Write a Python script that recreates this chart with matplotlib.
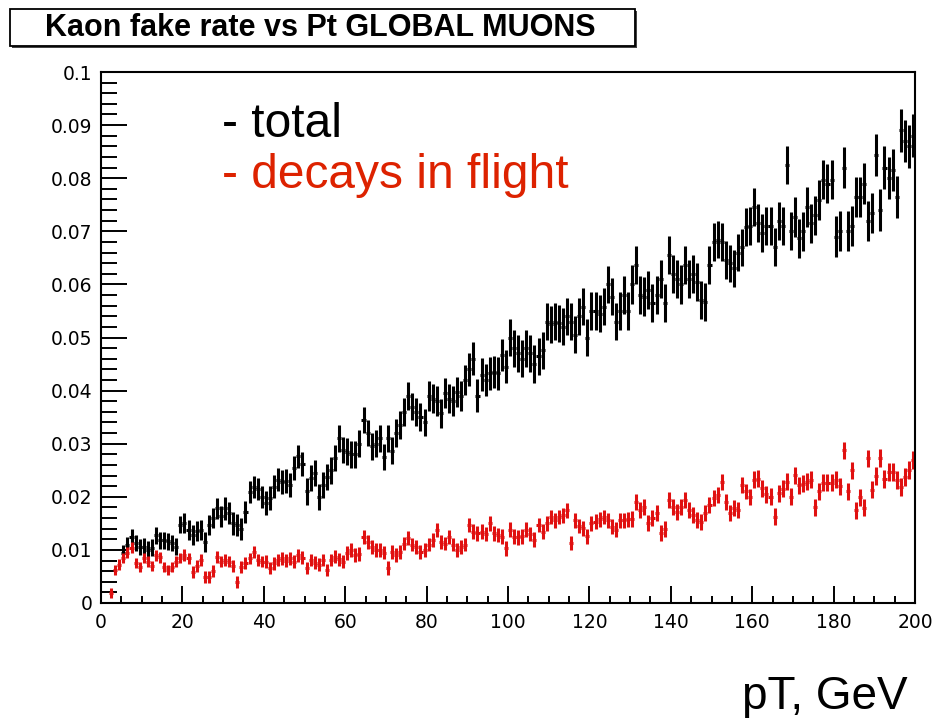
import numpy as np
import matplotlib.pyplot as plt
from matplotlib.patches import Rectangle
from matplotlib.ticker import MultipleLocator, FixedLocator, FixedFormatter

# fake rate per 1 GeV bin, total (bins 5..199)
total_first_bin = 5
total_rate = [
    0.0095, 0.0110, 0.0125, 0.0113, 0.0106, 0.0106, 0.0100, 0.0104, 0.0128, 0.0118,
    0.0118, 0.0116, 0.0113, 0.0106, 0.0147, 0.0150, 0.0138, 0.0128, 0.0135, 0.0138,
    0.0115, 0.0147, 0.0160, 0.0178, 0.0163, 0.0178, 0.0169, 0.0150, 0.0147, 0.0140,
    0.0172, 0.0209, 0.0219, 0.0215, 0.0200, 0.0188, 0.0198, 0.0219, 0.0232, 0.0228,
    0.0230, 0.0222, 0.0254, 0.0276, 0.0262, 0.0210, 0.0235, 0.0245, 0.0200, 0.0222,
    0.0237, 0.0250, 0.0273, 0.0310, 0.0288, 0.0285, 0.0280, 0.0280, 0.0300, 0.0345,
    0.0320, 0.0295, 0.0300, 0.0310, 0.0275, 0.0310, 0.0287, 0.0320, 0.0335, 0.0360,
    0.0390, 0.0370, 0.0360, 0.0350, 0.0340, 0.0390, 0.0385, 0.0380, 0.0357, 0.0395,
    0.0385, 0.0380, 0.0398, 0.0390, 0.0420, 0.0440, 0.0460, 0.0390, 0.0430, 0.0420,
    0.0433, 0.0435, 0.0433, 0.0467, 0.0445, 0.0500, 0.0480, 0.0470, 0.0460, 0.0480,
    0.0470, 0.0450, 0.0465, 0.0476, 0.0530, 0.0525, 0.0530, 0.0527, 0.0520, 0.0540,
    0.0530, 0.0505, 0.0540, 0.0558, 0.0500, 0.0550, 0.0550, 0.0545, 0.0558, 0.0600,
    0.0577, 0.0530, 0.0550, 0.0580, 0.0550, 0.0600, 0.0636, 0.0580, 0.0577, 0.0590,
    0.0565, 0.0580, 0.0610, 0.0565, 0.0655, 0.0620, 0.0610, 0.0600, 0.0636, 0.0610,
    0.0620, 0.0605, 0.0570, 0.0567, 0.0637, 0.0680, 0.0684, 0.0680, 0.0646, 0.0640,
    0.0630, 0.0660, 0.0670, 0.0708, 0.0710, 0.0746, 0.0715, 0.0697, 0.0710, 0.0710,
    0.0670, 0.0720, 0.0710, 0.0825, 0.0700, 0.0727, 0.0687, 0.0700, 0.0746, 0.0715,
    0.0730, 0.0759, 0.0797, 0.0790, 0.0797, 0.0690, 0.0700, 0.0820, 0.0700, 0.0710,
    0.0765, 0.0765, 0.0790, 0.0720, 0.0735, 0.0844, 0.0740, 0.0820, 0.0800, 0.0815,
    0.0765, 0.0890, 0.0870, 0.0860, 0.0880,
]

# decays in flight (bins 2..199)
decay_first_bin = 2
decay_rate = [
    0.0019, 0.0062, 0.0072, 0.0085, 0.0095, 0.0104, 0.0075, 0.0068, 0.0085, 0.0078,
    0.0070, 0.0090, 0.0086, 0.0068, 0.0062, 0.0068, 0.0078, 0.0085, 0.0090, 0.0084,
    0.0059, 0.0070, 0.0081, 0.0049, 0.0049, 0.0060, 0.0087, 0.0078, 0.0081, 0.0078,
    0.0070, 0.0040, 0.0068, 0.0075, 0.0084, 0.0096, 0.0081, 0.0078, 0.0078, 0.0066,
    0.0075, 0.0081, 0.0084, 0.0080, 0.0084, 0.0078, 0.0090, 0.0085, 0.0066, 0.0081,
    0.0076, 0.0072, 0.0081, 0.0062, 0.0081, 0.0087, 0.0082, 0.0078, 0.0094, 0.0100,
    0.0090, 0.0092, 0.0125, 0.0115, 0.0106, 0.0100, 0.0100, 0.0095, 0.0066, 0.0096,
    0.0090, 0.0096, 0.0112, 0.0122, 0.0110, 0.0105, 0.0096, 0.0100, 0.0110, 0.0119,
    0.0138, 0.0115, 0.0112, 0.0125, 0.0110, 0.0100, 0.0105, 0.0110, 0.0147, 0.0134,
    0.0131, 0.0134, 0.0130, 0.0150, 0.0131, 0.0128, 0.0125, 0.0103, 0.0138, 0.0125,
    0.0124, 0.0126, 0.0138, 0.0130, 0.0119, 0.0147, 0.0134, 0.0150, 0.0162, 0.0156,
    0.0162, 0.0165, 0.0175, 0.0113, 0.0156, 0.0145, 0.0141, 0.0126, 0.0150, 0.0153,
    0.0158, 0.0162, 0.0156, 0.0144, 0.0138, 0.0156, 0.0156, 0.0158, 0.0159, 0.0190,
    0.0175, 0.0180, 0.0150, 0.0160, 0.0170, 0.0132, 0.0140, 0.0194, 0.0180, 0.0172,
    0.0180, 0.0194, 0.0175, 0.0165, 0.0156, 0.0153, 0.0170, 0.0185, 0.0198, 0.0203,
    0.0228, 0.0190, 0.0170, 0.0179, 0.0175, 0.0222, 0.0210, 0.0200, 0.0232, 0.0234,
    0.0216, 0.0205, 0.0200, 0.0162, 0.0207, 0.0215, 0.0228, 0.0200, 0.0241, 0.0222,
    0.0225, 0.0228, 0.0232, 0.0180, 0.0210, 0.0226, 0.0226, 0.0226, 0.0232, 0.0220,
    0.0288, 0.0210, 0.0250, 0.0175, 0.0199, 0.0179, 0.0273, 0.0213, 0.0240, 0.0273,
    0.0234, 0.0247, 0.0247, 0.0232, 0.0219, 0.0237, 0.0250, 0.0270,
]

# typical statistical error in each 10 GeV slice
total_err_10gev = [0.0015, 0.0016, 0.0019, 0.0021, 0.0022, 0.0025, 0.0025, 0.0026, 0.0028, 0.0031,
                   0.0035, 0.0035, 0.0035, 0.0036, 0.0036, 0.0035, 0.0036, 0.0037, 0.0038, 0.0040]
decay_err_10gev = [0.0010, 0.0010, 0.0011, 0.0011, 0.0012, 0.0012, 0.0013, 0.0013, 0.0013, 0.0014,
                   0.0014, 0.0014, 0.0014, 0.0015, 0.0015, 0.0015, 0.0016, 0.0016, 0.0016, 0.0017]

x_ticks = [0, 20, 40, 60, 80, 100, 120, 140, 160, 180, 200]
x_labels = ["0", "20", "40", "60", "80", "100", "120", "140", "160", "180", "200"]
y_ticks = [0, 0.01, 0.02, 0.03, 0.04, 0.05, 0.06, 0.07, 0.08, 0.09, 0.1]
y_labels = ["0", "0.01", "0.02", "0.03", "0.04", "0.05", "0.06", "0.07", "0.08", "0.09", "0.1"]

# bin centres and errors
tot_bins = np.arange(total_first_bin, total_first_bin + len(total_rate))
dec_bins = np.arange(decay_first_bin, decay_first_bin + len(decay_rate))
tot_err = np.array(total_err_10gev)[tot_bins // 10]
dec_err = np.array(decay_err_10gev)[dec_bins // 10]

W, H = 935, 718
fig = plt.figure(figsize=(W / 100, H / 100), dpi=100)
ax = fig.add_axes([101 / W, (H - 603) / H, (915 - 101) / W, (603 - 72) / H])

ax.errorbar(tot_bins + 0.5, total_rate, yerr=tot_err, xerr=0.5, fmt='none',
            ecolor='black', elinewidth=2.2, capsize=0)
ax.errorbar(dec_bins + 0.5, decay_rate, yerr=dec_err, xerr=0.5, fmt='none',
            ecolor='#e01010', elinewidth=2.2, capsize=0)

ax.set_xlim(0, 200)
ax.set_ylim(0, 0.1)

ax.xaxis.set_major_locator(FixedLocator(x_ticks))
ax.xaxis.set_major_formatter(FixedFormatter(x_labels))
ax.xaxis.set_minor_locator(MultipleLocator(5))
ax.yaxis.set_major_locator(FixedLocator(y_ticks))
ax.yaxis.set_major_formatter(FixedFormatter(y_labels))
ax.yaxis.set_minor_locator(MultipleLocator(0.002))

ax.tick_params(axis='both', which='both', direction='in', width=1.4, color='black')
ax.tick_params(axis='y', which='major', length=19, pad=6, labelsize=13.5)
ax.tick_params(axis='y', which='minor', length=11.5)
ax.tick_params(axis='x', which='major', length=12, pad=7, labelsize=13.5)
ax.tick_params(axis='x', which='minor', length=5)
for s in ax.spines.values():
    s.set_linewidth(1.5)

# title box at the top
fig.patches.append(Rectangle((12 / W, 1 - 48 / H), 625 / W, 37 / H, transform=fig.transFigure,
                             facecolor='#444444', edgecolor='none', zorder=1))
fig.patches.append(Rectangle((10 / W, 1 - 46 / H), 625 / W, 37 / H, transform=fig.transFigure,
                             facecolor='white', edgecolor='black', linewidth=1.3, zorder=2))
fig.text(320 / W, 1 - 28 / H, "Kaon fake rate vs Pt GLOBAL MUONS", ha='center', va='center',
         fontsize=22, fontweight='bold', family='Liberation Sans', zorder=3)

fig.text(222 / W, (H - 137) / H, "- total", ha='left', va='baseline',
         fontsize=34.5, family='Liberation Sans', color='black')
fig.text(222 / W, (H - 188) / H, "- decays in flight", ha='left', va='baseline',
         fontsize=34.5, family='Liberation Sans', color='#dd2200')
fig.text(908 / W, (H - 709) / H, "pT, GeV", ha='right', va='baseline',
         fontsize=33, family='Liberation Sans', color='black')

fig.savefig("out.png", dpi=100)
